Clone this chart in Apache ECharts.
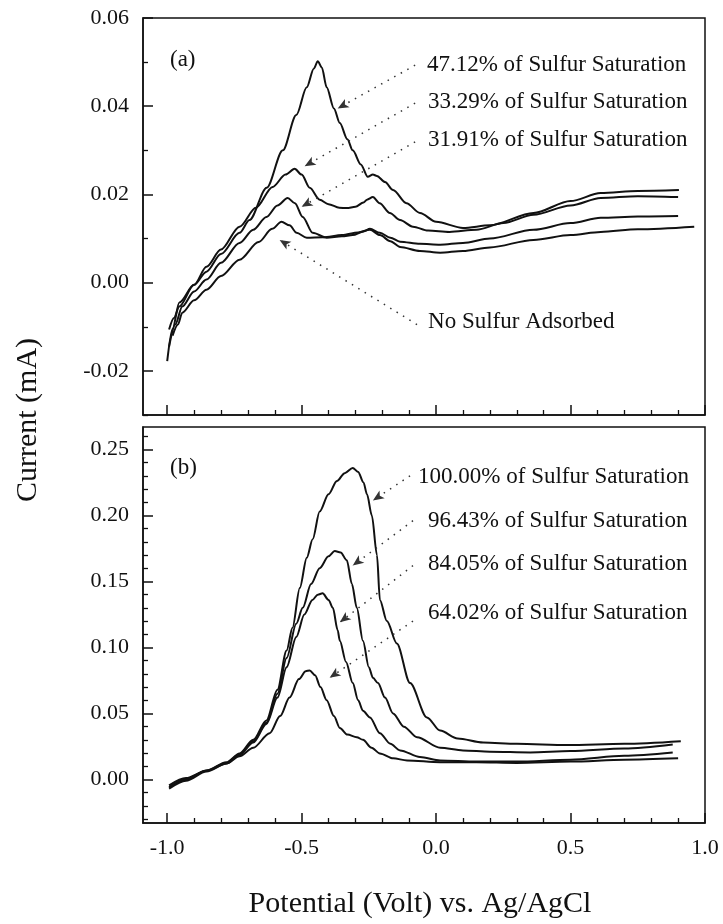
<!DOCTYPE html>
<html>
<head>
<meta charset="utf-8">
<script src="https://cdn.jsdelivr.net/npm/echarts@6/dist/echarts.min.js"></script>
<style>
html,body{margin:0;padding:0;background:#fff}
#chart{width:723px;height:924px}
</style>
</head>
<body>
<div id="chart"></div>
<script>
// ---- panel (a) ----
var potA47 = [-1.00,-0.98,-0.955,-0.90,-0.854,-0.80,-0.731,-0.694,-0.63,-0.57,-0.52,-0.481,-0.455,-0.44,-0.425,-0.407,-0.38,-0.358,-0.33,-0.31,-0.28,-0.254,-0.235,-0.22,-0.19,-0.16,-0.11,-0.06,0.0,0.10,0.20,0.362,0.50,0.612,0.75,0.903];
var curA47 = [-0.0178,-0.0105,-0.0045,-0.0005,0.0025,0.0065,0.0113,0.0142,0.0215,0.0300,0.0380,0.0443,0.0485,0.0502,0.0488,0.0443,0.0395,0.0362,0.0325,0.0300,0.0268,0.0240,0.0245,0.0242,0.0228,0.0210,0.0180,0.0158,0.0138,0.0124,0.0130,0.0158,0.0185,0.0203,0.0208,0.0210];
var potA33 = [-0.993,-0.975,-0.955,-0.90,-0.854,-0.80,-0.731,-0.67,-0.608,-0.56,-0.526,-0.50,-0.47,-0.433,-0.40,-0.36,-0.332,-0.30,-0.27,-0.257,-0.235,-0.21,-0.172,-0.134,-0.086,-0.03,0.05,0.15,0.25,0.362,0.50,0.612,0.75,0.90];
var curA33 = [-0.0106,-0.0080,-0.0054,-0.0005,0.0036,0.0075,0.0127,0.0170,0.0217,0.0245,0.0258,0.0245,0.0215,0.0188,0.0178,0.0170,0.0169,0.0172,0.0182,0.0188,0.0194,0.0180,0.0158,0.0142,0.0127,0.0118,0.0115,0.0120,0.0135,0.0154,0.0175,0.0192,0.0196,0.0194];
var potA31 = [-0.993,-0.97,-0.944,-0.90,-0.854,-0.80,-0.731,-0.68,-0.631,-0.59,-0.552,-0.525,-0.496,-0.459,-0.407,-0.35,-0.31,-0.27,-0.246,-0.209,-0.17,-0.134,-0.06,0.015,0.10,0.20,0.362,0.50,0.612,0.75,0.90];
var curA31 = [-0.0145,-0.0095,-0.0054,-0.0020,0.0007,0.0045,0.0090,0.0120,0.0149,0.0175,0.0192,0.0180,0.0149,0.0113,0.0102,0.0105,0.0108,0.0116,0.0122,0.0113,0.0102,0.0093,0.0088,0.0086,0.0090,0.0100,0.0120,0.0135,0.0147,0.0150,0.0151];
var potA0 = [-0.98,-0.96,-0.944,-0.90,-0.854,-0.80,-0.731,-0.66,-0.61,-0.575,-0.545,-0.519,-0.481,-0.42,-0.35,-0.29,-0.246,-0.209,-0.17,-0.134,-0.06,0.015,0.10,0.20,0.362,0.50,0.612,0.75,0.96];
var curA0 = [-0.0120,-0.0095,-0.0068,-0.0040,-0.0016,0.0015,0.0052,0.0092,0.0122,0.0138,0.0130,0.0113,0.0102,0.0103,0.0108,0.0114,0.0120,0.0108,0.0094,0.0081,0.0072,0.0068,0.0072,0.0080,0.0097,0.0108,0.0115,0.0121,0.0127];

// ---- panel (b) ----
var potB100 = [-0.993,-0.93,-0.854,-0.78,-0.731,-0.68,-0.631,-0.59,-0.556,-0.534,-0.507,-0.481,-0.459,-0.433,-0.40,-0.369,-0.34,-0.31,-0.29,-0.27,-0.257,-0.239,-0.22,-0.209,-0.183,-0.146,-0.097,-0.034,0.015,0.08,0.175,0.30,0.489,0.70,0.91];
var curB100 = [-0.0045,0.0010,0.0068,0.0130,0.0197,0.0300,0.0447,0.0680,0.0977,0.1150,0.1450,0.1680,0.1820,0.2030,0.2160,0.2260,0.2320,0.2360,0.2330,0.2250,0.2160,0.2000,0.1700,0.1360,0.1200,0.1030,0.0730,0.0470,0.0370,0.0310,0.0280,0.0270,0.0260,0.0270,0.0290];
var potB96 = [-0.993,-0.93,-0.854,-0.78,-0.731,-0.68,-0.631,-0.59,-0.556,-0.52,-0.496,-0.465,-0.433,-0.40,-0.377,-0.355,-0.332,-0.313,-0.295,-0.272,-0.25,-0.235,-0.216,-0.19,-0.16,-0.12,-0.071,0.015,0.10,0.20,0.35,0.50,0.70,0.88];
var curB96 = [-0.0060,0.0000,0.0065,0.0125,0.0190,0.0290,0.0430,0.0650,0.0920,0.1180,0.1300,0.1480,0.1600,0.1690,0.1730,0.1720,0.1660,0.1480,0.1300,0.1050,0.0850,0.0770,0.0730,0.0620,0.0500,0.0400,0.0320,0.0240,0.0220,0.0210,0.0205,0.0215,0.0235,0.0265];
var potB84 = [-0.993,-0.93,-0.854,-0.78,-0.731,-0.68,-0.631,-0.59,-0.556,-0.52,-0.49,-0.46,-0.44,-0.422,-0.40,-0.384,-0.366,-0.358,-0.335,-0.31,-0.29,-0.272,-0.246,-0.209,-0.17,-0.134,-0.06,0.015,0.15,0.30,0.50,0.70,0.88];
var curB84 = [-0.0070,-0.0010,0.0060,0.0120,0.0185,0.0280,0.0420,0.0620,0.0850,0.1080,0.1250,0.1360,0.1400,0.1410,0.1360,0.1300,0.1130,0.1050,0.0890,0.0730,0.0600,0.0520,0.0470,0.0350,0.0270,0.0220,0.0170,0.0144,0.0135,0.0135,0.0150,0.0180,0.0205];
var potB64 = [-0.99,-0.93,-0.854,-0.78,-0.731,-0.68,-0.619,-0.58,-0.545,-0.51,-0.485,-0.47,-0.45,-0.43,-0.407,-0.38,-0.358,-0.33,-0.295,-0.272,-0.24,-0.209,-0.16,-0.108,0.015,0.15,0.30,0.50,0.70,0.90];
var curB64 = [-0.0055,0.0000,0.0065,0.0120,0.0175,0.0240,0.0350,0.0480,0.0620,0.0760,0.0820,0.0826,0.0790,0.0700,0.0600,0.0480,0.0390,0.0340,0.0320,0.0300,0.0240,0.0197,0.0160,0.0144,0.0130,0.0130,0.0125,0.0135,0.0150,0.0160];

// tick values
var xMajor = [-1.0,-0.5,0.0,0.5,1.0];
var xMinor = [-0.9,-0.8,-0.7,-0.6,-0.4,-0.3,-0.2,-0.1,0.1,0.2,0.3,0.4,0.6,0.7,0.8,0.9];
var yMajorA = [-0.02,0.00,0.02,0.04,0.06];
var yMinorA = [-0.03,-0.01,0.01,0.03,0.05];
var yMajorB = [0.00,0.05,0.10,0.15,0.20,0.25];
var yMinorB = [-0.03,-0.02,-0.01,0.01,0.02,0.03,0.04,0.06,0.07,0.08,0.09,0.11,0.12,0.13,0.14,0.16,0.17,0.18,0.19,0.21,0.22,0.23,0.24,0.26];

// annotation text and arrows: [label x, label y], [arrow start], [arrow tip]
var labelsA = ['47.12% of Sulfur Saturation','33.29% of Sulfur Saturation','31.91% of Sulfur Saturation','No Sulfur Adsorbed'];
var labelPosA = [[-0.034,0.0493],[-0.030,0.0409],[-0.030,0.0323],[-0.030,-0.0090]];
var arrowFromA = [[-0.078,0.0493],[-0.078,0.0407],[-0.078,0.0319],[-0.071,-0.0095]];
var arrowToA = [[-0.366,0.0395],[-0.489,0.0264],[-0.500,0.0172],[-0.582,0.0097]];
var labelsB = ['100.00% of Sulfur Saturation','96.43% of Sulfur Saturation','84.05% of Sulfur Saturation','64.02% of Sulfur Saturation'];
var labelPosB = [[-0.067,0.2288],[-0.030,0.1962],[-0.030,0.1636],[-0.030,0.1265]];
var arrowFromB = [[-0.097,0.2300],[-0.086,0.1960],[-0.086,0.1620],[-0.086,0.1200]];
var arrowToB = [[-0.235,0.2114],[-0.310,0.1620],[-0.358,0.1190],[-0.396,0.0770]];

var chart = echarts.init(document.getElementById('chart'));
var FONT = 'Liberation Serif';
var INK = '#111';

function zip(xs, ys) {
    var out = [];
    for (var i = 0; i < xs.length; i++) out.push([xs[i], ys[i]]);
    return out;
}

function curve(xs, ys, idx, label, lpos, from, to) {
    return {
        type: 'line',
        xAxisIndex: idx * 2,
        yAxisIndex: idx * 2,
        data: zip(xs, ys),
        showSymbol: false,
        smooth: 0.3,
        smoothMonotone: 'x',
        silent: true,
        lineStyle: {color: INK, width: 2},
        markLine: {
            silent: true,
            symbol: ['none', 'arrow'],
            symbolSize: [7, 11],
            label: {show: false},
            lineStyle: {color: '#333', width: 1.5, type: [1.5, 6]},
            data: [[{coord: from}, {coord: to}]]
        },
        markPoint: {
            silent: true,
            symbol: 'circle',
            symbolSize: 0,
            label: {
                show: true, position: 'right', distance: 0, formatter: '{b}',
                fontFamily: FONT, fontSize: 23, color: INK
            },
            data: [{name: label, coord: lpos}]
        }
    };
}

function xAxes(grid, labels) {
    return [{
        type: 'value', gridIndex: grid, position: 'bottom', min: -1.09, max: 1.0,
        axisLine: {show: true, onZero: false, lineStyle: {color: INK, width: 1.5}},
        axisTick: {show: true, inside: true, length: 10, customValues: xMajor, lineStyle: {color: INK, width: 1.5}},
        axisLabel: {show: labels, customValues: xMajor, margin: 14, fontFamily: FONT, fontSize: 22, color: INK,
            formatter: function (v) { return v.toFixed(1); }},
        splitLine: {show: false}
    }, {
        type: 'value', gridIndex: grid, position: 'bottom', min: -1.09, max: 1.0,
        axisLine: {show: false, onZero: false},
        axisTick: {show: true, inside: true, length: 5, customValues: xMinor, lineStyle: {color: INK, width: 1.3}},
        axisLabel: {show: false},
        splitLine: {show: false}
    }];
}

function yAxes(grid, mn, mx, major, minor) {
    return [{
        type: 'value', gridIndex: grid, position: 'left', min: mn, max: mx,
        axisLine: {show: true, onZero: false, lineStyle: {color: INK, width: 1.5}},
        axisTick: {show: true, inside: true, length: 10, customValues: major, lineStyle: {color: INK, width: 1.5}},
        axisLabel: {show: true, customValues: major, margin: 14, fontFamily: FONT, fontSize: 22, color: INK,
            formatter: function (v) { return v.toFixed(2); }},
        splitLine: {show: false}
    }, {
        type: 'value', gridIndex: grid, position: 'left', min: mn, max: mx,
        axisLine: {show: false, onZero: false},
        axisTick: {show: true, inside: true, length: 5, customValues: minor, lineStyle: {color: INK, width: 1.3}},
        axisLabel: {show: false},
        splitLine: {show: false}
    }];
}

var option = {
    backgroundColor: '#fff',
    animation: false,
    grid: [
        {left: 143, top: 18, width: 562, height: 397, show: true, borderColor: INK, borderWidth: 1.5},
        {left: 143, top: 427, width: 562, height: 396, show: true, borderColor: INK, borderWidth: 1.5}
    ],
    xAxis: xAxes(0, false).concat(xAxes(1, true)),
    yAxis: yAxes(0, -0.03, 0.06, yMajorA, yMinorA).concat(yAxes(1, -0.033, 0.267, yMajorB, yMinorB)),
    series: [
        curve(potA47, curA47, 0, labelsA[0], labelPosA[0], arrowFromA[0], arrowToA[0]),
        curve(potA33, curA33, 0, labelsA[1], labelPosA[1], arrowFromA[1], arrowToA[1]),
        curve(potA31, curA31, 0, labelsA[2], labelPosA[2], arrowFromA[2], arrowToA[2]),
        curve(potA0, curA0, 0, labelsA[3], labelPosA[3], arrowFromA[3], arrowToA[3]),
        curve(potB100, curB100, 1, labelsB[0], labelPosB[0], arrowFromB[0], arrowToB[0]),
        curve(potB96, curB96, 1, labelsB[1], labelPosB[1], arrowFromB[1], arrowToB[1]),
        curve(potB84, curB84, 1, labelsB[2], labelPosB[2], arrowFromB[2], arrowToB[2]),
        curve(potB64, curB64, 1, labelsB[3], labelPosB[3], arrowFromB[3], arrowToB[3])
    ],
    graphic: [
        {type: 'text', left: 170, top: 48, style: {text: '(a)', font: '23px "Liberation Serif"', fill: INK}},
        {type: 'text', left: 170, top: 456, style: {text: '(b)', font: '23px "Liberation Serif"', fill: INK}},
        {type: 'text', x: 28, y: 420, rotation: Math.PI / 2,
            style: {text: 'Current (mA)', font: '30px "Liberation Serif"', fill: INK, align: 'center', verticalAlign: 'middle'}},
        {type: 'text', x: 420, y: 904,
            style: {text: 'Potential (Volt) vs. Ag/AgCl', font: '30px "Liberation Serif"', fill: INK, align: 'center', verticalAlign: 'middle'}}
    ]
};

chart.setOption(option);
window.onresize = function () { chart.resize(); };
</script>
</body>
</html>
